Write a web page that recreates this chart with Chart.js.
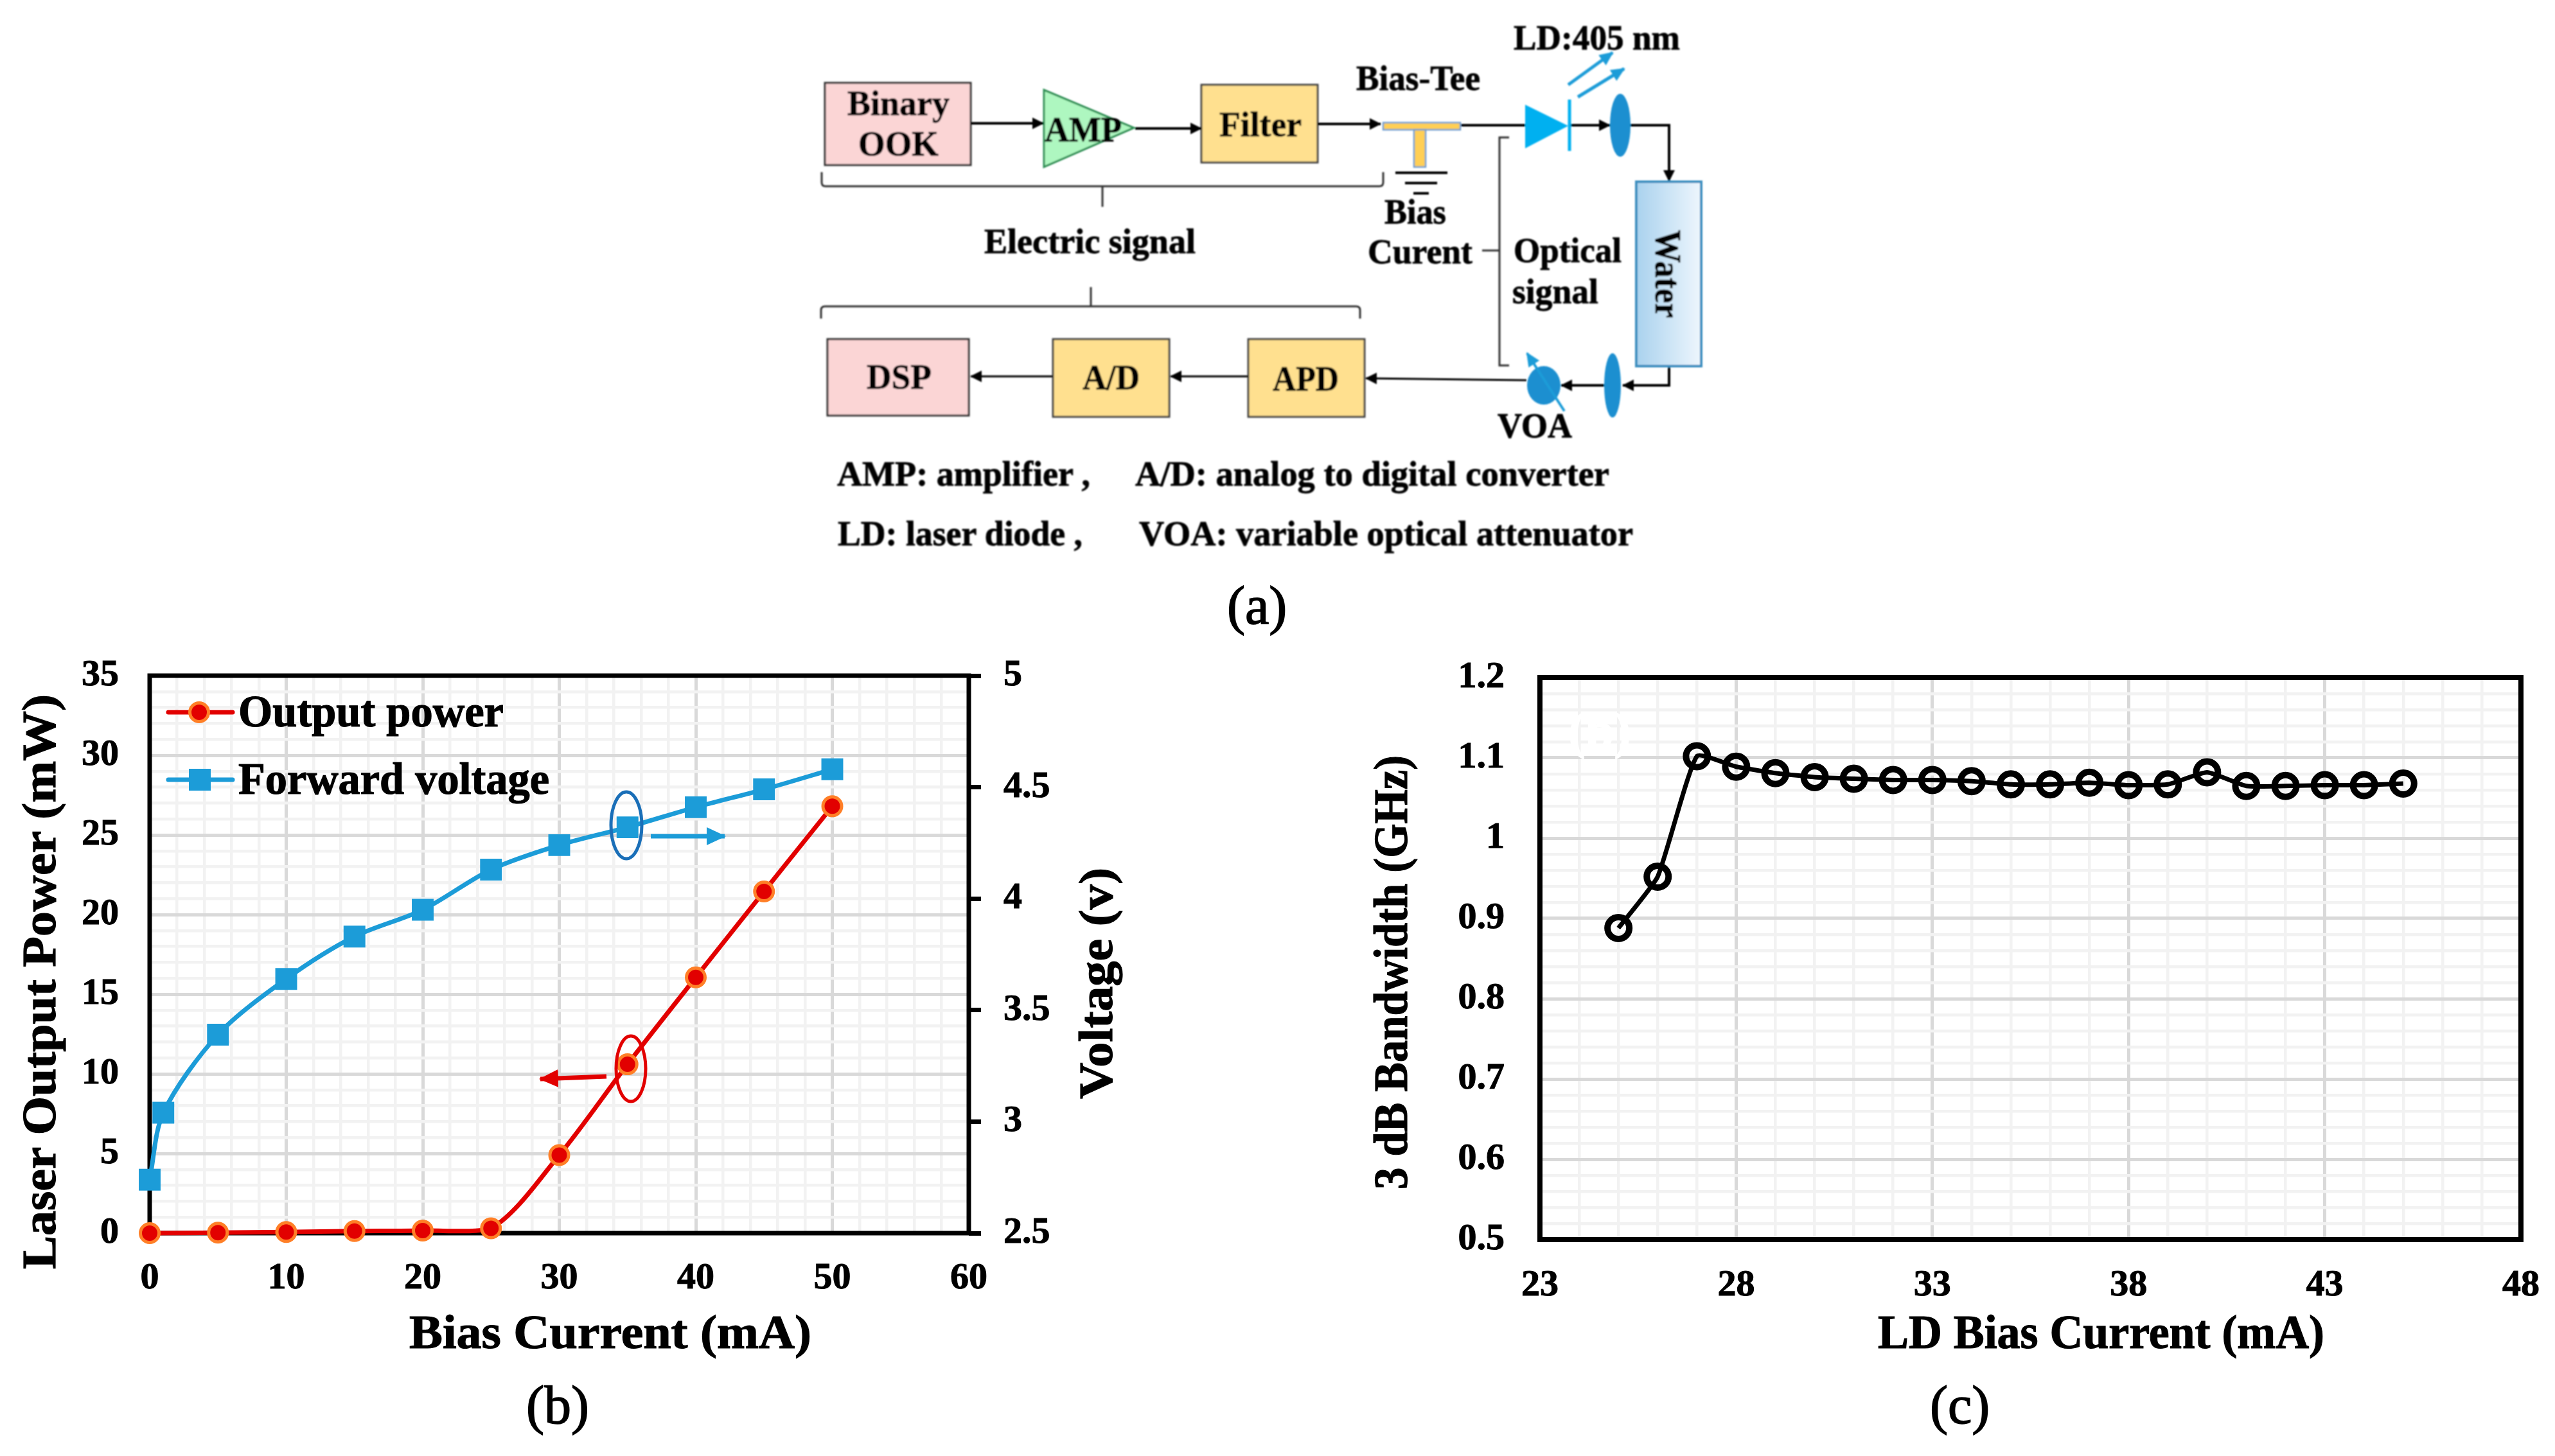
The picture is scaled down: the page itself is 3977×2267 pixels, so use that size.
<!DOCTYPE html>
<html>
<head>
<meta charset="utf-8">
<title>Experimental setup, L-I-V curve and 3 dB bandwidth</title>
<script src="https://cdn.jsdelivr.net/npm/chart.js@4/dist/chart.umd.min.js"></script>
<style>
    html, body { margin: 0; padding: 0; background: #fff; width: 3977px; height: 2267px; overflow: hidden; }
    canvas { position: absolute; }
    #chartB { left: 0; top: 1000px; }
    #chartC { left: 2100px; top: 1000px; }
    #overlay { position: absolute; left: 0; top: 0; }
    text { font-family: "Liberation Serif", serif; font-weight: bold; fill: #000; stroke: #000; stroke-width: 1.2px; }
    .diagram text { font-size: 54px; stroke-width: 0.8px; }
    .title { font-size: 75px; }
    .panel { font-size: 84px; font-weight: normal; stroke-width: 1.5px; }
</style>
</head>
<body>
<canvas id="chartB" width="1800" height="1267"></canvas>
<canvas id="chartC" width="1877" height="1267"></canvas>

<svg id="overlay" width="3977" height="2267" viewBox="0 0 3977 2267" xmlns="http://www.w3.org/2000/svg">
    <defs>
        <marker id="ah" markerUnits="userSpaceOnUse" markerWidth="18" markerHeight="20" refX="17" refY="10" orient="auto">
            <path d="M0,1 L18,10 L0,19 Z" fill="#000"/>
        </marker>
        <marker id="ahBlue" markerUnits="userSpaceOnUse" markerWidth="22" markerHeight="22" refX="20" refY="11" orient="auto">
            <path d="M0,1 L22,11 L0,21 Z" fill="#1c9cd8"/>
        </marker>
        <marker id="ahBlueBig" markerUnits="userSpaceOnUse" markerWidth="30" markerHeight="30" refX="28" refY="15" orient="auto">
            <path d="M0,1 L30,15 L0,29 Z" fill="#1c9cd8"/>
        </marker>
        <marker id="ahRedBig" markerUnits="userSpaceOnUse" markerWidth="30" markerHeight="30" refX="28" refY="15" orient="auto">
            <path d="M0,1 L30,15 L0,29 Z" fill="#e20000"/>
        </marker>
        <linearGradient id="waterFill" x1="0" x2="1" y1="0" y2="0">
            <stop offset="0" stop-color="#a9d2ee"/>
            <stop offset="1" stop-color="#eef6fd"/>
        </linearGradient>
        <filter id="soft"><feGaussianBlur stdDeviation="0.8"/></filter>
    </defs>

    <!-- panel (a): block diagram -->
    <g class="diagram" filter="url(#soft)">
        <rect x="1284" y="129" width="227" height="128" fill="#fbd5d5" stroke="#333" stroke-width="3"/>
        <path d="M1625,140 L1765,199 L1625,260 Z" fill="#aef7c0" stroke="#2f8f55" stroke-width="3"/>
        <rect x="1870" y="132" width="181" height="121" fill="#ffe08f" stroke="#444" stroke-width="3"/>
        <rect x="1288" y="528" width="220" height="119" fill="#fbd5d5" stroke="#333" stroke-width="3"/>
        <rect x="1639" y="528" width="181" height="121" fill="#ffe08f" stroke="#444" stroke-width="3"/>
        <rect x="1943" y="528" width="181" height="121" fill="#ffe08f" stroke="#444" stroke-width="3"/>

        <g fill="none" stroke="#000" stroke-width="4">
            <path d="M1511,192 L1624,192" marker-end="url(#ah)"/>
            <path d="M1767,200 L1870,200" marker-end="url(#ah)"/>
            <path d="M2051,193 L2149,193" marker-end="url(#ah)"/>
            <path d="M2273,195 L2374,195"/>
            <path d="M2443,195 L2506,195" marker-end="url(#ah)"/>
            <path d="M2537,195 L2598,195 L2598,282" marker-end="url(#ah)"/>
            <path d="M2598,570 L2598,600 L2526,600" marker-end="url(#ah)"/>
            <path d="M2497,600 L2430,600" marker-end="url(#ah)"/>
            <path d="M2376,592 L2126,589" stroke-width="3" marker-end="url(#ah)"/>
            <path d="M1943,586 L1822,586" stroke-width="3" marker-end="url(#ah)"/>
            <path d="M1639,586 L1511,586" stroke-width="3" marker-end="url(#ah)"/>
        </g>

        <rect x="2153" y="191" width="120" height="11" fill="#ffcf55" stroke="#6f9ed0" stroke-width="2.5"/>
        <rect x="2201" y="202" width="18" height="58" fill="#ffcf55" stroke="#6f9ed0" stroke-width="2.5"/>
        <g stroke="#000" stroke-width="4">
            <path d="M2172,269 L2253,269"/>
            <path d="M2187,285 L2237,285"/>
            <path d="M2200,301 L2224,301"/>
        </g>

        <path d="M2374,163 L2441,196 L2374,231 Z" fill="#00b0f0"/>
        <path d="M2443,155 L2443,235" stroke="#00b0f0" stroke-width="5"/>
        <path d="M2441,132 L2510,82" stroke="#1c9cd8" stroke-width="5" marker-end="url(#ahBlue)"/>
        <path d="M2456,151 L2528,107" stroke="#1c9cd8" stroke-width="5" marker-end="url(#ahBlue)"/>
        <ellipse cx="2522" cy="195" rx="16" ry="49" fill="#1a8fd0"/>

        <rect x="2547" y="283" width="101" height="287" fill="url(#waterFill)" stroke="#3d8fc0" stroke-width="4"/>
        <ellipse cx="2510" cy="600" rx="13" ry="50" fill="#1a8fd0"/>
        <ellipse cx="2403" cy="600" rx="26" ry="30" fill="#1a8fd0"/>
        <path d="M2435,640 L2377,550" stroke="#1c9cd8" stroke-width="4" marker-end="url(#ahBlue)"/>

        <g fill="none" stroke="#333" stroke-width="3">
            <path d="M1279,268 L1279,284 Q1279,290 1285,290 L2147,290 Q2153,290 2153,284 L2153,268"/>
            <path d="M1716,290 L1716,322"/>
            <path d="M1278,496 L1278,483 Q1278,477 1284,477 L2111,477 Q2117,477 2117,483 L2117,496"/>
            <path d="M1698,477 L1698,447"/>
            <path d="M2349,214 L2334,214 L2334,569 L2349,569"/>
            <path d="M2307,390 L2334,390"/>
        </g>

        <text x="1319" y="179" textLength="159" lengthAdjust="spacingAndGlyphs">Binary</text>
        <text x="1336" y="242" textLength="125" lengthAdjust="spacingAndGlyphs">OOK</text>
        <text x="1626" y="220" textLength="120" lengthAdjust="spacingAndGlyphs">AMP</text>
        <text x="1898" y="212" textLength="128" lengthAdjust="spacingAndGlyphs">Filter</text>
        <text x="2111" y="140" textLength="193" lengthAdjust="spacingAndGlyphs">Bias-Tee</text>
        <text x="2356" y="77" textLength="259" lengthAdjust="spacingAndGlyphs">LD:405 nm</text>
        <text x="2155" y="348" textLength="96" lengthAdjust="spacingAndGlyphs">Bias</text>
        <text x="2129" y="410" textLength="163" lengthAdjust="spacingAndGlyphs">Curent</text>
        <text x="2356" y="408" textLength="168" lengthAdjust="spacingAndGlyphs">Optical</text>
        <text x="2354" y="472" textLength="134" lengthAdjust="spacingAndGlyphs">signal</text>
        <text x="1532" y="394" textLength="329" lengthAdjust="spacingAndGlyphs">Electric signal</text>
        <text x="1349" y="605" textLength="101" lengthAdjust="spacingAndGlyphs">DSP</text>
        <text x="1685" y="606" textLength="89" lengthAdjust="spacingAndGlyphs">A/D</text>
        <text x="1981" y="608" textLength="103" lengthAdjust="spacingAndGlyphs">APD</text>
        <text x="2331" y="681" textLength="116" lengthAdjust="spacingAndGlyphs">VOA</text>
        <text transform="translate(2577,358) rotate(90)" textLength="137" lengthAdjust="spacingAndGlyphs" style="font-size:58px">Water</text>
        <text x="1303" y="756" textLength="394" lengthAdjust="spacingAndGlyphs">AMP: amplifier ,</text>
        <text x="1767" y="756" textLength="738" lengthAdjust="spacingAndGlyphs">A/D: analog to digital converter</text>
        <text x="1304" y="849" textLength="381" lengthAdjust="spacingAndGlyphs">LD: laser diode ,</text>
        <text x="1773" y="849" textLength="769" lengthAdjust="spacingAndGlyphs">VOA: variable optical attenuator</text>
    </g>
    <text class="panel" x="1910" y="971">(a)</text>

    <!-- panel (b): legend, series pointers, titles -->
    <path d="M262,1109 L362,1109" stroke="#e20000" stroke-width="7" stroke-linecap="round"/>
    <circle cx="310" cy="1109" r="14.5" fill="#e20000" stroke="#ff7f27" stroke-width="5"/>
    <path d="M262,1214 L362,1214" stroke="#1c9cd8" stroke-width="7" stroke-linecap="round"/>
    <rect x="294" y="1197" width="34" height="34" fill="#1c9cd8"/>
    <text x="371" y="1131" textLength="413" lengthAdjust="spacingAndGlyphs" style="font-size:70px">Output power</text>
    <text x="371" y="1236" textLength="484" lengthAdjust="spacingAndGlyphs" style="font-size:70px">Forward voltage</text>

    <ellipse cx="975" cy="1285" rx="24" ry="52" fill="none" stroke="#1a6fb8" stroke-width="5"/>
    <path d="M1013,1302 L1128,1302" stroke="#1c9cd8" stroke-width="7" marker-end="url(#ahBlueBig)"/>
    <ellipse cx="982" cy="1664" rx="23" ry="51" fill="none" stroke="#e20000" stroke-width="5"/>
    <path d="M944,1676 L841,1680" stroke="#e20000" stroke-width="7" marker-end="url(#ahRedBig)"/>

    <text class="title" x="637" y="2099" textLength="626" lengthAdjust="spacingAndGlyphs">Bias Current (mA)</text>
    <text class="title" transform="translate(86,1976) rotate(-90)" textLength="895" lengthAdjust="spacingAndGlyphs">Laser Output Power (mW)</text>
    <text class="title" transform="translate(1731,1711) rotate(-90)" textLength="360" lengthAdjust="spacingAndGlyphs">Voltage (v)</text>
    <text class="panel" x="819" y="2216">(b)</text>

    <!-- panel (c): titles and the washed-out label left in the plot -->
    <text x="2441" y="1165" style="font-size:80px;fill:#fff;stroke:#fff">(b)</text>
    <text class="title" x="2923" y="2099" textLength="695" lengthAdjust="spacingAndGlyphs">LD Bias Current (mA)</text>
    <text class="title" transform="translate(2190,1852) rotate(-90)" textLength="676" lengthAdjust="spacingAndGlyphs">3 dB Bandwidth (GHz)</text>
    <text class="panel" x="3004" y="2216">(c)</text>
</svg>

<script>
const powerCurrent = [0, 5, 10, 15, 20, 25, 30, 35, 40, 45, 50];
const outputPower = [0, 0.03, 0.07, 0.13, 0.16, 0.3, 4.9, 10.6, 16.06, 21.45, 26.8];
const voltageCurrent = [0, 1, 5, 10, 15, 20, 25, 30, 35, 40, 45, 50];
const forwardVoltage = [2.74, 3.04, 3.39, 3.64, 3.83, 3.95, 4.13, 4.24, 4.32, 4.41, 4.49, 4.58];
const ldCurrent = [25, 26, 27, 28, 29, 30, 31, 32, 33, 34, 35, 36, 37, 38, 39, 40, 41, 42, 43, 44, 45];
const bandwidth = [0.888, 0.952, 1.102, 1.089, 1.081, 1.076, 1.074, 1.0725, 1.0725, 1.071, 1.067, 1.067, 1.069, 1.066, 1.067, 1.082, 1.065, 1.065, 1.066, 1.066, 1.068];

const tickFont = { family: '"Liberation Serif"', weight: "bold", size: 58 };
const MAJOR_GRID = "#d9d9d9";
const MINOR_GRID = "#f2f2f2";

Chart.defaults.animation = false;
Chart.defaults.devicePixelRatio = 1;

function toPoints(xs, ys) {
    return xs.map((x, i) => ({ x, y: ys[i] }));
}

// pin the axis boxes so the plot area lands where the reference has it
function fixedWidth(w) {
    return (scale) => {
        scale.width = w;
        scale.paddingTop = 0;
        scale.paddingBottom = 0;
    };
}

function fixedHeight(h) {
    return (scale) => {
        scale.height = h;
        scale.paddingLeft = 0;
        scale.paddingRight = 0;
    };
}

function gridOf(isMajor) {
    return {
        drawTicks: false,
        color: (c) => (isMajor(c.tick.value) ? MAJOR_GRID : MINOR_GRID),
        lineWidth: (c) => (isMajor(c.tick.value) ? 5 : 4.5)
    };
}

// the black box round the plot, under the series
function framePlugin(width) {
    return {
        id: "frame",
        beforeDatasetsDraw(chart) {
            const a = chart.chartArea;
            const ctx = chart.ctx;
            ctx.save();
            ctx.strokeStyle = "#000";
            ctx.lineWidth = width;
            ctx.strokeRect(a.left, a.top, a.right - a.left, a.bottom - a.top);
            ctx.restore();
        }
    };
}

new Chart(document.getElementById("chartB"), {
    type: "line",
    data: {
        datasets: [
            {
                label: "Forward voltage",
                data: toPoints(voltageCurrent, forwardVoltage),
                yAxisID: "y1",
                borderColor: "#1c9cd8",
                backgroundColor: "#1c9cd8",
                borderWidth: 7,
                tension: 0.3,
                clip: false,
                pointStyle: "rect",
                pointRadius: 24,
                pointBorderWidth: 0
            },
            {
                label: "Output power",
                data: toPoints(powerCurrent, outputPower),
                yAxisID: "y",
                borderColor: "#e20000",
                backgroundColor: "#e20000",
                borderWidth: 7,
                tension: 0.3,
                clip: false,
                pointRadius: 14.5,
                pointBorderWidth: 5,
                pointBorderColor: "#ff7f27",
                pointBackgroundColor: "#e20000"
            }
        ]
    },
    options: {
        responsive: false,
        layout: { padding: { top: 52 } },
        plugins: { legend: { display: false }, tooltip: { enabled: false } },
        scales: {
            x: {
                type: "linear",
                min: 0,
                max: 60,
                afterFit: fixedHeight(347),
                border: { display: false },
                grid: gridOf((v) => v % 10 === 0),
                ticks: {
                    stepSize: 2,
                    autoSkip: false,
                    maxRotation: 0,
                    padding: 36,
                    color: "#000",
                    font: tickFont,
                    textStrokeColor: "#000",
                    textStrokeWidth: 1,
                    callback: (v) => (v % 10 === 0 ? String(v) : "")
                }
            },
            y: {
                min: 0,
                max: 35,
                afterFit: fixedWidth(233),
                border: { display: false },
                grid: gridOf((v) => v % 5 === 0),
                ticks: {
                    stepSize: 1,
                    autoSkip: false,
                    padding: 48,
                    color: "#000",
                    font: tickFont,
                    textStrokeColor: "#000",
                    textStrokeWidth: 1,
                    callback: (v) => (v % 5 === 0 ? String(v) : "")
                }
            },
            y1: {
                position: "right",
                min: 2.5,
                max: 5,
                afterFit: fixedWidth(292),
                border: { display: false },
                grid: { drawOnChartArea: false, drawTicks: true, tickLength: 19, tickWidth: 7, tickColor: "#000" },
                ticks: {
                    stepSize: 0.5,
                    padding: 35,
                    color: "#000",
                    font: tickFont,
                    textStrokeColor: "#000",
                    textStrokeWidth: 1,
                    callback: (v) => String(v)
                }
            }
        }
    },
    plugins: [framePlugin(7)]
});

new Chart(document.getElementById("chartC"), {
    type: "line",
    data: {
        datasets: [{
            label: "3 dB Bandwidth",
            data: toPoints(ldCurrent, bandwidth),
            borderColor: "#000",
            borderWidth: 7,
            tension: 0.15,
            clip: false,
            pointRadius: 17,
            pointBorderWidth: 10,
            pointBorderColor: "#000",
            pointBackgroundColor: "transparent"
        }]
    },
    options: {
        responsive: false,
        layout: { padding: { top: 55, right: 53 } },
        plugins: { legend: { display: false }, tooltip: { enabled: false } },
        scales: {
            x: {
                type: "linear",
                min: 23,
                max: 48,
                afterFit: fixedHeight(337),
                border: { display: false },
                grid: gridOf((v) => (v - 23) % 5 === 0),
                ticks: {
                    stepSize: 1,
                    autoSkip: false,
                    maxRotation: 0,
                    padding: 37,
                    color: "#000",
                    font: tickFont,
                    textStrokeColor: "#000",
                    textStrokeWidth: 1,
                    callback: (v) => ((v - 23) % 5 === 0 ? String(v) : "")
                }
            },
            y: {
                min: 0.5,
                max: 1.2,
                afterFit: fixedWidth(297),
                border: { display: false },
                grid: gridOf((v) => Math.round(v * 100) % 10 === 0),
                ticks: {
                    stepSize: 0.02,
                    autoSkip: false,
                    padding: 55,
                    color: "#000",
                    font: tickFont,
                    textStrokeColor: "#000",
                    textStrokeWidth: 1,
                    callback: (v) => (Math.round(v * 100) % 10 === 0 ? String(Math.round(v * 10) / 10) : "")
                }
            }
        }
    },
    plugins: [framePlugin(8)]
});
</script>
</body>
</html>
